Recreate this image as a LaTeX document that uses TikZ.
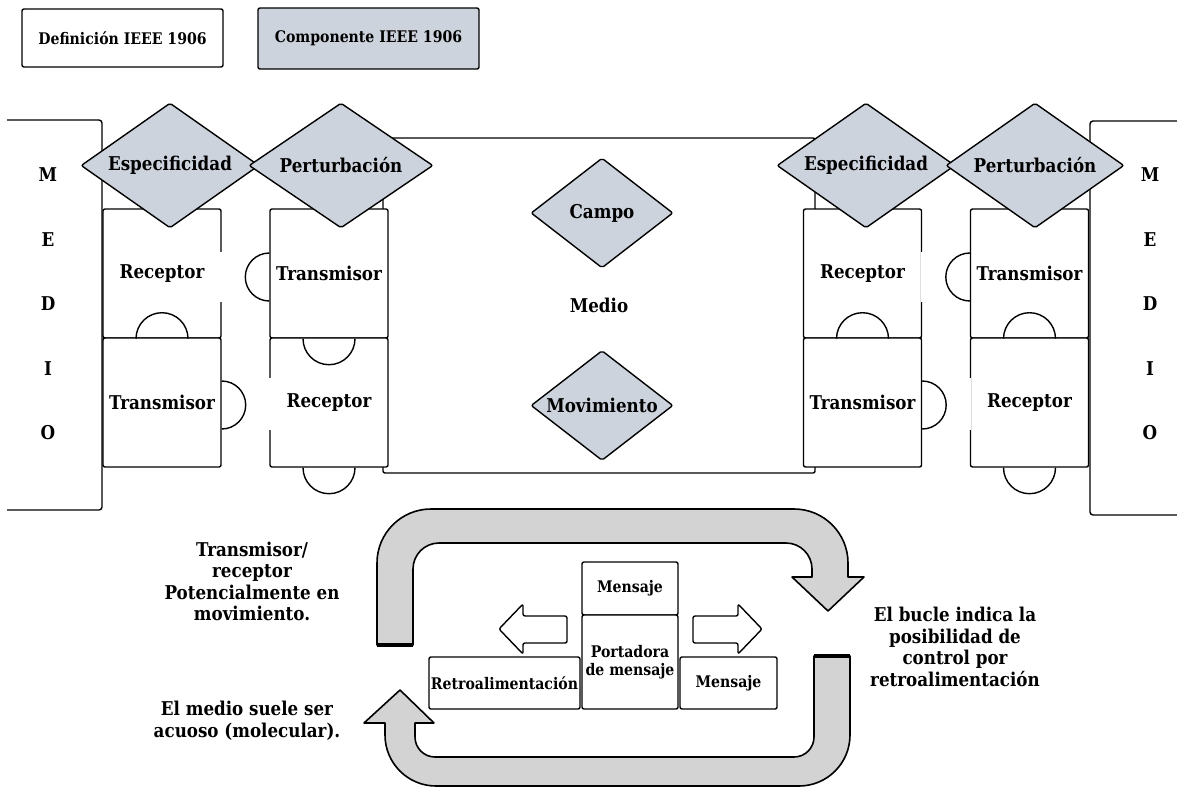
\documentclass[tikz,border=0pt]{standalone}
\usepackage{fontspec}
\setmainfont{DejaVu Serif}[FakeStretch=0.88]
\usetikzlibrary{shapes.geometric,positioning}
\definecolor{compgray}{RGB}{205,211,221}
\definecolor{loopgray}{RGB}{211,211,211}
\newcommand{\lblfont}{\bfseries\fontsize{19}{21.5}\selectfont}
\newcommand{\smlfont}{\bfseries\fontsize{16}{18}\selectfont}

\begin{document}
\begin{tikzpicture}[x=1pt,y=1pt,line width=1.4pt,
    comp/.style={diamond,draw,fill=compgray,rounded corners=2pt,inner sep=0pt,
        minimum width=178pt,minimum height=125pt,label distance=0pt},
    blk/.style={draw,fill=white,rounded corners=2pt,minimum width=118pt,
        minimum height=129pt,font=\lblfont},
    cell/.style={draw,fill=white,rounded corners=2pt,inner sep=1pt,font=\smlfont},
    legend/.style={draw,rounded corners=2pt,minimum height=58pt,font=\smlfont},
    note/.style={align=center,font=\lblfont},
    letter/.style={font=\lblfont},
    gap/.style={white,line width=3pt},
    loop/.style={draw,fill=loopgray,line width=1.6pt,line join=round},
    flow/.style={draw,fill=white,rounded corners=2pt,line join=round}
    ]
\useasboundingbox (0,0) rectangle (1177,-787);

\node[legend,fill=white,minimum width=201pt] (defn) at (122.5,-38) {Definición IEEE 1906};
\node[legend,fill=compgray,minimum width=221pt,minimum height=61pt] (compo) at (368.5,-38.5) {Componente IEEE 1906};

\node[draw,rounded corners=2pt,minimum width=432pt,minimum height=335pt,
    font=\lblfont] (medio) at (599,-305.5) {Medio};
\draw[rounded corners=3pt] (7,-120) -- (102,-120) -- (102,-510) -- (7,-510);
\draw[rounded corners=3pt] (1177,-121) -- (1090,-121) -- (1090,-515) -- (1177,-515);
\foreach \ch [count=\i] in {M,E,D,I,O} {
    \node[letter] (ml\i) at (48,{-175-64.5*(\i-1)}) {\ch};
    \node[letter] (mr\i) at (1150,{-175-64.5*(\i-1)}) {\ch};
}

\node[blk] (recA) at (162,-273.5) {Receptor};
\node[blk] (traA) at (162,-402.5) {Transmisor};
\node[blk] (traB) at (329,-273.5) {Transmisor};
\node[blk] (recB) at (329,-402.5) {Receptor};
\node[blk] (recC) at (862.5,-273.5) {Receptor};
\node[blk] (traC) at (862.5,-402.5) {Transmisor};
\node[blk] (traD) at (1029.5,-273.5) {Transmisor};
\node[blk] (recD) at (1029.5,-402.5) {Receptor};

\draw[gap] (recA.east |- 0,-252) -- (recA.east |- 0,-302);
\draw[gap] (recB.west |- 0,-378) -- (recB.west |- 0,-430);
\draw[gap] (recC.east |- 0,-252) -- (recC.east |- 0,-302);
\draw[gap] (recD.west |- 0,-378) -- (recD.west |- 0,-430);

\draw (recA.south) ++(-26,0) arc (180:0:26);
\draw (traA.east |- 0,-381) arc (90:-90:24);
\draw (traB.west |- 0,-253) arc (90:270:24);
\draw (traB.south) ++(-26,0) arc (180:360:26);
\draw (recB.south) ++(-26,0) arc (180:360:26);
\draw (recC.south) ++(-26,0) arc (180:0:26);
\draw (traC.east |- 0,-381) arc (90:-90:24);
\draw (traD.west |- 0,-253) arc (90:270:24);
\draw (traD.south) ++(-26,0) arc (180:0:26);
\draw (recD.south) ++(-26,0) arc (180:360:26);

\node[comp,label={[font=\lblfont]center:Especificidad}] (espA) at (170,-165.5) {};
\node[comp,minimum width=184pt,label={[font=\lblfont]center:Perturbación}] (perA) at (341,-165.5) {};
\node[comp,label={[font=\lblfont]center:Especificidad}] (espB) at (866,-165.5) {};
\node[comp,label={[font=\lblfont]center:Perturbación}] (perB) at (1035,-165.5) {};
\node[comp,minimum width=142pt,minimum height=110pt,
    label={[font=\lblfont]center:Campo}] (campo) at (602,-213) {};
\node[comp,minimum width=142pt,minimum height=110pt,
    label={[font=\lblfont]center:Movimiento}] (movi) at (602,-405.5) {};

\draw[loop] (377,-645) -- (377,-563) arc (180:90:54) -- (794,-509) arc (90:0:54)
    -- (848,-577) -- (864,-577) -- (828,-611) -- (792,-577) -- (812,-577)
    -- (812,-569) arc (0:90:26) -- (439,-543) arc (90:180:26) -- (413,-645) -- cycle;
\draw[line width=3.5pt] (377,-645) -- (413,-645);
\draw[loop] (814,-656) -- (850,-656) -- (850,-735) arc (0:-90:51) -- (436,-786)
    arc (270:180:51) -- (385,-723) -- (364,-723) -- (400,-690) -- (434,-723)
    -- (415,-723) -- (415,-737) arc (180:270:20) -- (794,-757) arc (270:360:20) -- cycle;
\draw[line width=3.5pt] (814,-656) -- (850,-656);

\node[cell,minimum width=96pt,minimum height=53pt] (msgT) at (630,-588.5) {Mensaje};
\node[cell,minimum width=96pt,minimum height=94pt,align=center] (port) at (630,-662) {Portadora\\de mensaje};
\node[cell,minimum width=151pt,minimum height=52pt] (retro) at (504.5,-683) {Retroalimentación};
\node[cell,minimum width=97pt,minimum height=52pt] (msgR) at (728.5,-683) {Mensaje};

\draw[flow] (567,-616) -- (523,-616) -- (523,-604) -- (499,-629) -- (523,-654)
    -- (523,-643) -- (567,-643) -- cycle;
\draw[flow] (693,-616) -- (738,-616) -- (738,-604) -- (762,-629) -- (738,-654)
    -- (738,-643) -- (693,-643) -- cycle;

\node[note] (noteA) at (252,-581.5) {Transmisor/\\receptor\\Potencialmente en\\movimiento.};
\node[note] (noteB) at (247,-721) {El medio suele ser\\acuoso (molecular).};
\node[note] (noteC) at (955,-647) {El bucle indica la\\posibilidad de\\control por\\retroalimentación};
\end{tikzpicture}
\end{document}
